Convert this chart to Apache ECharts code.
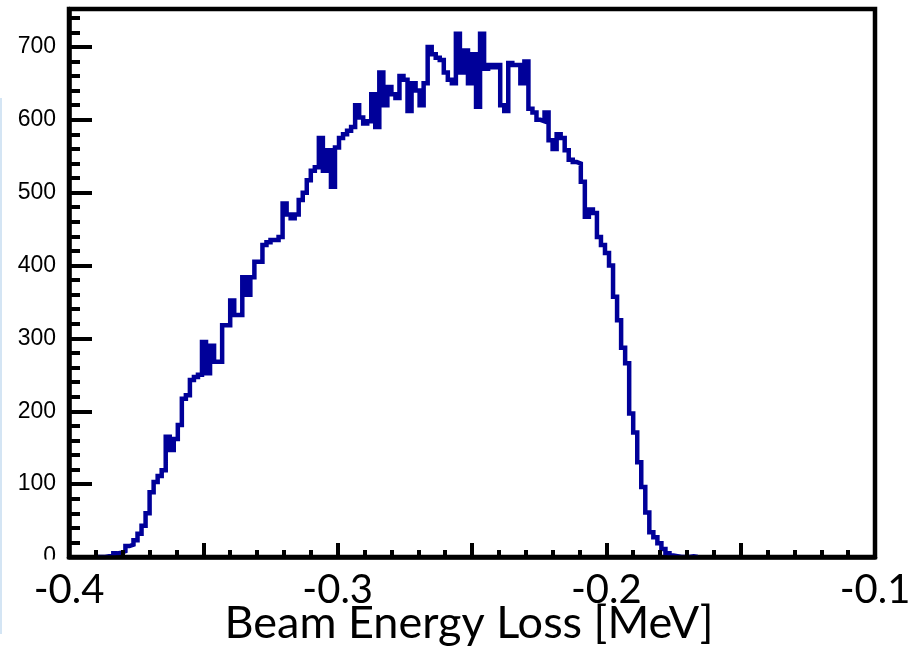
<!DOCTYPE html>
<html>
<head>
<meta charset="utf-8">
<script src="https://cdn.jsdelivr.net/npm/echarts@6/dist/echarts.min.js"></script>
<style>html,body{margin:0;padding:0;background:#fff;}#c{width:910px;height:648px;}</style>
</head>
<body>
<div id="c"></div>
<script>
// Histogram: bin low edge, bin width (MeV)
var binLow = -0.4;
var binWidth = 0.0015;
// Counts per bin (200 bins from -0.4 to -0.1)
var counts = [
  0,0,0,0,0,0,0,0,0,1,
  2,5,6,8,15,17,23,32,43,60,
  89,103,111,119,165,147,162,181,217,222,
  243,247,250,295,252,290,268,268,318,318,
  352,332,332,384,360,384,405,405,428,432,
  435,435,439,485,470,465,470,490,500,517,
  530,535,575,530,558,508,562,575,580,585,
  590,620,603,595,598,635,590,665,620,645,
  635,630,660,655,612,650,640,620,650,700,
  690,685,682,665,655,650,718,665,695,650,
  690,618,718,670,675,672,675,620,612,678,
  675,675,650,680,615,610,600,598,610,572,
  560,580,575,558,545,542,540,515,467,477,
  472,439,428,417,400,357,325,287,266,197,
  171,130,96,61,34,27,19,11,5,2,
  1,0,0,0,1,0,0,0,0,0,
  0,0,0,0,0,0,0,0,0,0,
  0,0,0,0,0,0,0,0,0,0,
  0,0,0,0,0,0,0,0,0,0,
  0,0,0,0,0,0,0,0,0,0
];
var xTickLabels = [-0.4, -0.3, -0.2, -0.1];
var yTickLabels = [0, 100, 200, 300, 400, 500, 600, 700];
var xTitle = 'Beam Energy Loss [MeV]';

// step outline: only the populated range (empty bins lie under the frame)
var first = 0, last = counts.length - 1;
while (first < counts.length && counts[first] === 0) first++;
while (last > 0 && counts[last] === 0) last--;
first = Math.max(0, first - 2); last = Math.min(counts.length - 1, last + 1);
var stepData = [];
for (var i = first; i <= last; i++) {
  stepData.push([binLow + i * binWidth, counts[i]]);
}
stepData.push([binLow + (last + 1) * binWidth, counts[last]]);

function near(v, list, eps) {
  for (var j = 0; j < list.length; j++) if (Math.abs(v - list[j]) < eps) return list[j];
  return null;
}

var chart = echarts.init(document.getElementById('c'), null, {renderer: 'canvas'});
chart.setOption({
  animation: false,
  backgroundColor: '#fff',
  grid: {left: 69, right: 35, top: 9, bottom: 91, containLabel: false, outerBoundsMode: 'none',
         show: true, borderColor: '#000', borderWidth: 4.5, backgroundColor: 'transparent'},
  xAxis: [{
    type: 'value', min: -0.4, max: -0.1, interval: 0.05, position: 'bottom', z: 5,
    axisLine: {show: true, onZero: false, lineStyle: {color: '#000', width: 4.5}},
    axisTick: {show: true, inside: true, length: 14, lineStyle: {color: '#000', width: 4}},
    minorTick: {show: true, splitNumber: 5, length: 7, lineStyle: {color: '#000', width: 4}},
    splitLine: {show: false}, minorSplitLine: {show: false},
    axisLabel: {
      margin: 13, color: '#000', fontFamily: 'Lato', fontSize: 40,
      formatter: function (v) { var n = near(v, xTickLabels, 1e-6); return n === null ? '' : n.toFixed(1); }
    },
    name: xTitle, nameLocation: 'middle', nameGap: 44, nameMoveOverlap: false,
    nameTextStyle: {color: '#000', fontFamily: 'Lato', fontSize: 45, padding: [0, 6, 0, 0]}
  }],
  yAxis: [{
    type: 'value', min: 0, max: 752, interval: 100, position: 'left', z: 5,
    axisLine: {show: true, onZero: false, lineStyle: {color: '#000', width: 4.5}},
    axisTick: {show: true, inside: true, length: 23, lineStyle: {color: '#000', width: 4}},
    splitLine: {show: false},
    axisLabel: {
      margin: 13, color: '#000', fontFamily: 'Liberation Sans', fontSize: 23,
      formatter: function (v) { var n = near(v, yTickLabels, 1e-6); return n === null ? '' : String(n); }
    }
  }, {
    type: 'value', min: 0, max: 752, interval: 20, position: 'left', z: 4,
    axisLine: {show: false},
    axisTick: {show: true, inside: true, length: 11, lineStyle: {color: '#000', width: 4}},
    splitLine: {show: false},
    axisLabel: {show: false}
  }],
  series: [{
    type: 'line', step: 'end', data: stepData, showSymbol: false, symbol: 'none', z: 2,
    xAxisIndex: 0, yAxisIndex: 0,
    lineStyle: {color: '#000099', width: 4.5, join: 'miter', cap: 'butt'}
  }],
  graphic: [
    {type: 'rect', shape: {x: 0, y: 559.5, width: 62, height: 11}, style: {fill: '#fff'}, z: 100},
    {type: 'line', shape: {x1: 1, y1: 98, x2: 1, y2: 634}, style: {stroke: '#d4e5f4', lineWidth: 2}, z: 100}
  ]
});
</script>
</body>
</html>
